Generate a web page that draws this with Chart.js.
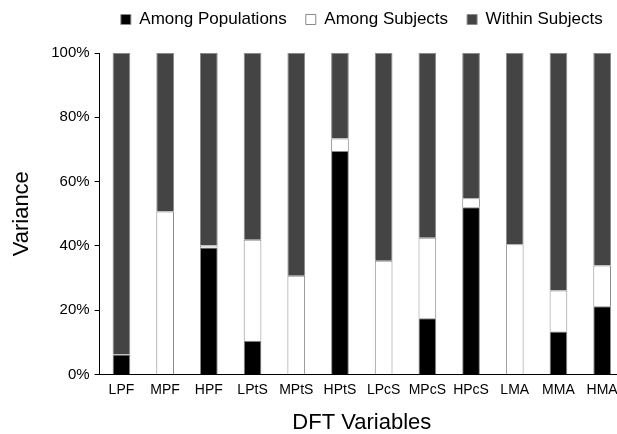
<!DOCTYPE html>
<html>
<head>
<meta charset="utf-8">
<script src="https://cdn.jsdelivr.net/npm/chart.js@4/dist/chart.umd.min.js"></script>
<style>
  html, body { margin: 0; padding: 0; background: #fff; overflow: hidden; }
  #wrap { width: 640px; height: 434px; }
</style>
</head>
<body>
<div id="wrap"><canvas id="chartCanvas" width="640" height="434"></canvas></div>
<script>
// 横轴变量
var categories = ['LPF', 'MPF', 'HPF', 'LPtS', 'MPtS', 'HPtS', 'LPcS', 'MPcS', 'HPcS', 'LMA', 'MMA', 'HMA'];
// 各方差分量 (%)
var amongPopulations = [6.2, 0, 39.5, 10.5, 0, 69.5, 0, 17.5, 52.0, 0, 13.4, 21.2];
var amongSubjects = [0, 50.7, 0.6, 31.4, 30.7, 3.9, 35.4, 25.0, 2.8, 40.5, 12.7, 12.7];
var withinSubjects = [93.8, 49.3, 59.9, 58.1, 69.3, 26.6, 64.6, 57.5, 45.2, 59.5, 73.9, 66.1];
var yTicks = [0, 20, 40, 60, 80, 100];

Chart.defaults.font.family = '"Liberation Sans", Arial, sans-serif';
Chart.defaults.color = '#000';

var ctx = document.getElementById('chartCanvas').getContext('2d');

new Chart(ctx, {
  type: 'bar',
  data: {
    labels: categories,
    datasets: [{
      label: 'Among Populations',
      data: amongPopulations,
      backgroundColor: '#000000',
      borderColor: '#8a8a8a',
      borderWidth: 1
    }, {
      label: 'Among Subjects',
      data: amongSubjects,
      backgroundColor: '#ffffff',
      borderColor: '#8a8a8a',
      borderWidth: 1
    }, {
      label: 'Within Subjects',
      data: withinSubjects,
      backgroundColor: '#444444',
      borderColor: '#8a8a8a',
      borderWidth: 1
    }]
  },
  options: {
    responsive: false,
    animation: false,
    devicePixelRatio: 1,
    categoryPercentage: 1,
    barPercentage: 0.405,
    layout: {
      padding: { top: -8, right: 16, bottom: 0, left: 0 }
    },
    plugins: {
      tooltip: { enabled: false },
      legend: {
        position: 'top',
        fullSize: false,
        labels: {
          boxWidth: 10,
          boxHeight: 10,
          padding: 19,
          color: '#000',
          font: { size: 17 }
        }
      },
      // 图例和绘图区之间的空白
      subtitle: {
        display: true,
        text: ' ',
        fullSize: false,
        weight: 500,
        padding: 0,
        font: { size: 15, lineHeight: 1 }
      }
    },
    scales: {
      x: {
        stacked: true,
        grid: { display: false, drawTicks: false },
        border: { color: '#000', width: 1 },
        ticks: { color: '#000', font: { size: 14 }, padding: 7, autoSkip: false, maxRotation: 0 },
        title: {
          display: true,
          text: 'DFT Variables',
          color: '#000',
          font: { size: 22, lineHeight: 1 },
          padding: { top: 0, bottom: 0 }
        },
        afterFit: function(scale) { scale.height = 59.5; }
      },
      y: {
        stacked: true,
        min: 0,
        max: 100,
        afterBuildTicks: function(scale) {
          scale.ticks = yTicks.map(function(v) { return { value: v }; });
        },
        ticks: {
          color: '#000',
          font: { size: 15 },
          padding: 5,
          callback: function(v) { return v + '%'; }
        },
        grid: { drawOnChartArea: false, drawTicks: true, tickLength: 5, color: '#000' },
        border: { color: '#000', width: 1 },
        title: {
          display: true,
          text: 'Variance',
          color: '#000',
          font: { size: 22, lineHeight: 1 },
          padding: { top: 11, bottom: 0 }
        },
        afterFit: function(scale) { scale.width = 99.6; }
      }
    }
  }
});
</script>
</body>
</html>
